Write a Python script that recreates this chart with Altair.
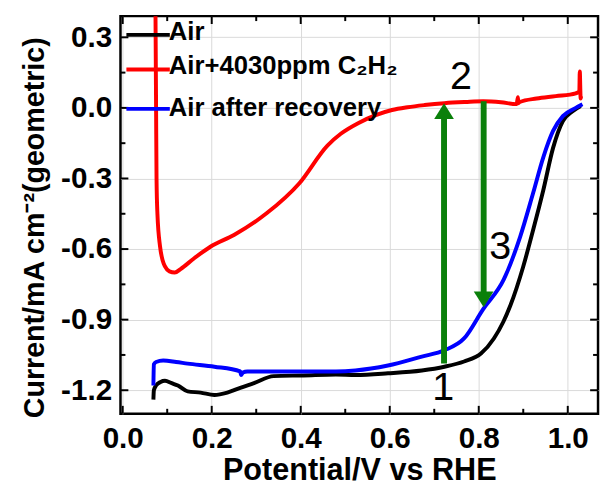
import altair as alt
import pandas as pd

# ---------------- data ----------------
series_names = ["Air", "Air+4030ppm C₂H₂", "Air after recovery"]
series_colors = ["#000000", "#ff0000", "#0000ff"]

air_v = [0.069, 0.070, 0.075, 0.085, 0.095, 0.110, 0.124, 0.146, 0.175, 0.206,
         0.235, 0.264, 0.295, 0.339, 0.406, 0.479, 0.523, 0.596, 0.672, 0.723,
         0.767, 0.805, 0.834, 0.855, 0.871, 0.900, 0.922, 0.945, 0.967, 0.989,
         1.011, 1.029]
air_i = [-1.24, -1.20, -1.18, -1.165, -1.16, -1.17, -1.18, -1.205, -1.21, -1.22,
         -1.21, -1.19, -1.17, -1.14, -1.137, -1.133, -1.135, -1.128, -1.116, -1.10,
         -1.078, -1.044, -0.98, -0.91, -0.84, -0.674, -0.52, -0.35, -0.17, -0.056,
         -0.014, 0.008]

c2h2_v = [0.073, 0.075, 0.076, 0.078, 0.084, 0.090, 0.095, 0.105, 0.117, 0.130,
          0.160, 0.197, 0.250, 0.324, 0.397, 0.460, 0.490, 0.530, 0.570, 0.605,
          0.640, 0.678, 0.723, 0.770, 0.810, 0.850, 0.885, 0.888, 0.889, 0.892,
          0.930, 0.973, 1.018, 1.026, 1.027, 1.029, 1.030]
c2h2_i = [0.60, 0.00, -0.30, -0.45, -0.59, -0.65, -0.674, -0.695, -0.70, -0.685,
          -0.64, -0.59, -0.54, -0.447, -0.32, -0.16, -0.11, -0.064, -0.03, -0.009,
          0.003, 0.012, 0.020, 0.025, 0.028, 0.024, 0.016, 0.045, 0.020, 0.025,
          0.040, 0.050, 0.062, 0.070, 0.155, 0.040, 0.050]

rec_v = [0.069, 0.070, 0.075, 0.091, 0.120, 0.146, 0.206, 0.264, 0.266, 0.270,
         0.280, 0.368, 0.479, 0.523, 0.596, 0.672, 0.723, 0.767, 0.810, 0.856,
         0.893, 0.922, 0.945, 0.967, 0.989, 1.018, 1.033]
rec_i = [-1.18, -1.09, -1.08, -1.074, -1.08, -1.087, -1.10, -1.12, -1.135, -1.125,
         -1.12, -1.12, -1.12, -1.116, -1.095, -1.057, -1.03, -0.98, -0.855, -0.73,
         -0.548, -0.363, -0.21, -0.098, -0.035, 0.000, 0.015]

x_major = [0.0, 0.2, 0.4, 0.6, 0.8, 1.0]
x_minor = [0.1, 0.3, 0.5, 0.7, 0.9]
y_major = [-1.2, -0.9, -0.6, -0.3, 0.0, 0.3]
y_minor = [-1.05, -0.75, -0.45, -0.15, 0.15]

arrow_x = [0.722, 0.811]
arrow_from = [-1.086, 0.028]
arrow_to = [0.020, -0.847]

note_text = ["1", "2", "3"]
note_x = [0.720, 0.760, 0.848]
note_y = [-1.19, 0.13, -0.594]

# ---------------- layout ----------------
W, H = 484, 403
X_DOMAIN = [-0.005, 1.068]
Y_DOMAIN = [-1.30, 0.39]
GREEN = "#0a800a"
FONT = "Liberation Sans"

xs = alt.Scale(domain=X_DOMAIN, nice=False, zero=False)
ys = alt.Scale(domain=Y_DOMAIN, nice=False, zero=False)

x_axis = alt.Axis(values=x_major, title="Potential/V vs RHE", format=".1f",
                  labelPadding=10, titlePadding=3, labelFlush=False, labelOverlap=False,
                  titleFontSize=31)
y_axis = alt.Axis(values=y_major, title="Current/mA cm⁻²(geometric)", format=".1f",
                  labelExpr="replace(datum.label, '\u2212', '-')",
                  labelPadding=9, titlePadding=11, labelOverlap=False,
                  titleFontSize=29, titleY=214, titleLimit=1000)

X = lambda f: alt.X(f, scale=xs, axis=x_axis, title="Potential/V vs RHE")
Y = lambda f: alt.Y(f, scale=ys, axis=y_axis, title="Current/mA cm⁻²(geometric)")

layers = []
curves = [(air_v, air_i), (c2h2_v, c2h2_i), (rec_v, rec_i)]
for k, (vv, ii) in enumerate(curves):
    df = pd.DataFrame({"V": vv, "I": ii, "idx": range(len(vv))})
    layers.append(
        alt.Chart(df).mark_line(strokeWidth=4, clip=True, color=series_colors[k],
                                interpolate="monotone").encode(
            x=X("V:Q"), y=Y("I:Q"), order=alt.Order("idx:Q"))
    )

# inward ticks on all four sides
def xticks(vals, length):
    d = pd.DataFrame({"v": vals})
    b = alt.Chart(d).mark_rule(color="black", strokeWidth=2)
    return [
        b.encode(x=X("v:Q"), y=alt.value(H), y2=alt.value(H - length)),
        b.encode(x=X("v:Q"), y=alt.value(0), y2=alt.value(length)),
    ]

def yticks(vals, length):
    d = pd.DataFrame({"v": vals})
    b = alt.Chart(d).mark_rule(color="black", strokeWidth=2)
    return [
        b.encode(y=Y("v:Q"), x=alt.value(0), x2=alt.value(length)),
        b.encode(y=Y("v:Q"), x=alt.value(W), x2=alt.value(W - length)),
    ]

tick_layers = xticks(x_major, 8) + xticks(x_minor, 5) + yticks(y_major, 8) + yticks(y_minor, 5)

# arrows
head = 0.06
arr = pd.DataFrame({
    "x": arrow_x,
    "y1": arrow_from,
    "tip": arrow_to,
    "y2": [t - head if t > f else t + head for f, t in zip(arrow_from, arrow_to)],
    "ang": [0 if t > f else 180 for f, t in zip(arrow_from, arrow_to)],
})
shafts = alt.Chart(arr).mark_rule(color=GREEN, strokeWidth=6).encode(
    x=X("x:Q"), y=Y("y1:Q"), y2="y2:Q",
)
heads = alt.Chart(arr).mark_point(
    shape="M0,0 L-1,1.6 L1,1.6 Z", filled=True, size=400, color=GREEN, opacity=1, strokeWidth=0
).encode(
    x=X("x:Q"), y=Y("tip:Q"), angle=alt.Angle("ang:Q", scale=None),
)

notes = alt.Chart(pd.DataFrame({"t": note_text, "x": note_x, "y": note_y})).mark_text(
    font=FONT, fontSize=40, color="black", align="center", baseline="middle"
).encode(
    x=X("x:Q"), y=Y("y:Q"), text="t:N",
)

# legend (drawn inside the plot, top-left)
leg_line_y = [19, 54, 94]
leg_text_y = [16, 51, 93]
legend_layers = []
for name, col, ly, ty in zip(series_names, series_colors, leg_line_y, leg_text_y):
    legend_layers.append(
        alt.Chart(pd.DataFrame({"s": [name]})).mark_rule(color=col, strokeWidth=4).encode(
            x=alt.value(6), x2=alt.value(50), y=alt.value(ly))
    )
    legend_layers.append(
        alt.Chart(pd.DataFrame({"s": [name]})).mark_text(
            font=FONT, fontSize=26, fontWeight="bold", color="black", align="left", baseline="middle"
        ).encode(x=alt.value(49), y=alt.value(ty), text="s:N")
    )

chart = alt.layer(
    *layers, *tick_layers, shafts, heads, notes, *legend_layers
).properties(
    width=W, height=H,
    autosize=alt.AutoSizeParams(type="none"),
    padding={"left": 114, "top": 5, "right": 2, "bottom": 72},
    background="white",
).configure_view(
    stroke="black", strokeWidth=2.5
).configure_axis(
    labelFont=FONT, labelFontSize=30, labelFontWeight="bold", labelColor="black",
    titleFont=FONT, titleFontSize=30, titleFontWeight="bold", titleColor="black",
    ticks=False, domain=False, grid=True, gridColor="#d9d9d9", gridWidth=1,
)

chart.save("out.html", embed_options={"renderer": "svg", "actions": False})
